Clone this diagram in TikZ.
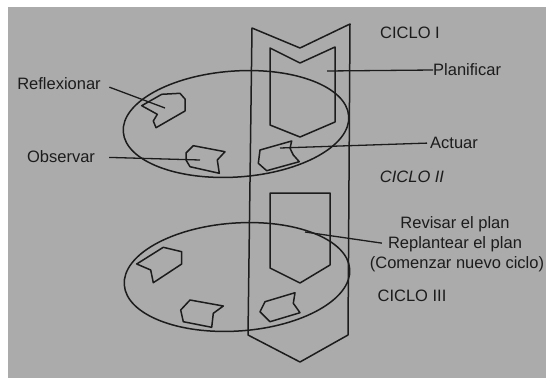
\documentclass[tikz,border=0pt]{standalone}
\usepackage{fontspec}
\setmainfont{Liberation Sans}
\definecolor{paper}{RGB}{171,171,171}
\definecolor{inkc}{RGB}{28,28,28}
\begin{document}
\begin{tikzpicture}[x=1pt,y=-1pt,
  ln/.style={draw=inkc, line width=1.5pt, line join=round},
  lbl/.style={font=\fontsize{16.5}{18}\selectfont, text=inkc, inner sep=0pt},
  lead/.style={draw=inkc, line width=1.3pt}]
\fill[white] (0,0) rectangle (548,378);
\fill[paper] (8,7) rectangle (546,378);
\useasboundingbox (0,0) rectangle (548,378);

% band (spiral strip)
\draw[ln] (252,28) -- (300,48) -- (350,24) -- (348,335) -- (300,362) -- (248,335) -- cycle;
% inner boxes
\draw[ln] (270,48) -- (300,63) -- (335,47) -- (335,122) -- (300,137) -- (270,125) -- cycle;
\draw[ln] (270,193) -- (330,193) -- (330,265) -- (300,283) -- (270,268) -- cycle;

% ellipses (cycles)
\draw[ln, rotate around={4:(236,124)}] (236,124) ellipse [x radius=113, y radius=53];
\draw[ln, rotate around={4:(237,277)}] (237,277) ellipse [x radius=113, y radius=54];

% step shapes, cycle 1
\draw[ln] (141.7,105.7) -- (161.7,94.3) -- (180,93.3) -- (185,99) -- (185,111) -- (156,127.7) -- (153.3,121) -- (157.3,114.3) -- cycle;
\draw[ln] (193.3,145.7) -- (225,151.7) -- (217.3,160) -- (219.3,173.3) -- (190,166.7) -- (186,160) -- (186,153) -- cycle;
\draw[ln] (260,150) -- (291.7,141) -- (290,148.3) -- (293.3,155) -- (299.3,161.7) -- (266.7,170.7) -- (258.3,163.3) -- cycle;
% step shapes, cycle 2
\draw[ln] (136.7,264) -- (163.3,247.3) -- (181.7,251.7) -- (181.7,264) -- (153.3,282.7) -- (150.7,270) -- cycle;
\draw[ln] (190,300) -- (223.3,306) -- (213.3,313.3) -- (211.7,327.3) -- (183.3,321.7) -- (180.7,310) -- cycle;
\draw[ln] (265,301.7) -- (295,292.7) -- (293.3,303.3) -- (300,312.7) -- (270,321.7) -- (260,311.7) -- cycle;

% labels
\node[lbl] (c1) at (410,33) {CICLO I};
\node[lbl, anchor=west] (plan) at (433,70) {Planificar};
\node[lbl] (refl) at (59,84) {Reflexionar};
\node[lbl] (obs) at (61,157) {Observar};
\node[lbl, anchor=west] (act) at (430,143) {Actuar};
\node[lbl, font=\fontsize{16.5}{18}\selectfont\itshape] (c2) at (412,177) {CICLO II};
\node[lbl] (rev) at (455,224) {Revisar el plan};
\node[lbl] (repl) at (455,244) {Replantear el plan};
\node[lbl] (com) at (457,264) {(Comenzar nuevo ciclo)};
\node[lbl] (c3) at (412,296) {CICLO III};

% leader end points
\coordinate (pPlan) at (327,71);
\coordinate (pRefl) at (165,108);
\coordinate (pObs) at (200,160);
\coordinate (pAct) at (280,148);
\coordinate (pRepl) at (305,232);

\draw[lead] (plan.west) -- (pPlan);
\draw[lead, shorten <=9pt] (refl.east) -- (pRefl);
\draw[lead, shorten <=14pt] (obs.east) -- (pObs);
\draw[lead, shorten <=3pt] (act.west) -- (pAct);
\draw[lead, shorten <=6pt] (repl.west) -- (pRepl);
\end{tikzpicture}
\end{document}
